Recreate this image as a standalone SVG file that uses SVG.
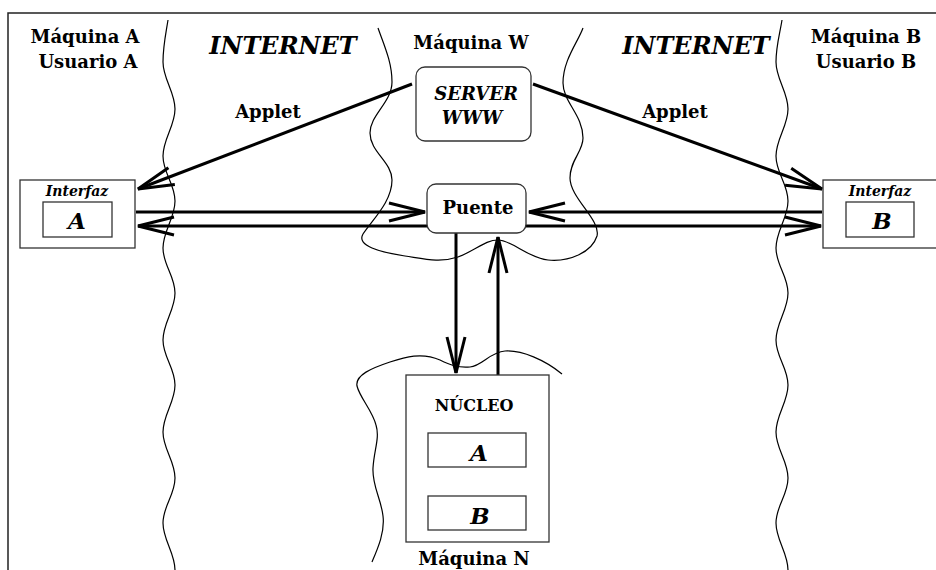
<svg xmlns="http://www.w3.org/2000/svg" width="936" height="570" viewBox="0 0 936 570">
  <style>
    .t { font-family: "DejaVu Serif", "Liberation Serif", serif; font-weight: bold; text-anchor: middle; fill: #000; }
    .i { font-style: italic; }
    .box { fill: #fff; stroke: #333; stroke-width: 1.3; }
    .wave { fill: none; stroke: #000; stroke-width: 1.2; }
    .link { fill: none; stroke: #000; stroke-width: 3; }
  </style>
  <defs>
    <marker id="vhead" viewBox="-40 -12 44 24" refX="0" refY="0" markerWidth="44" markerHeight="24" markerUnits="userSpaceOnUse" orient="auto" overflow="visible">
      <path d="M-36,-9 L0,0 L-36,9" fill="none" stroke="#000" stroke-width="3"/>
    </marker>
  </defs>
  <rect width="936" height="570" fill="#fff"/>

  <!-- page frame -->
  <path d="M8,570 V13 H936" fill="none" stroke="#222" stroke-width="1.5"/>

  <!-- network boundaries -->
  <g id="boundaries">
    <path class="wave" d="M168,20 C166,33 163,46 163,62 C163,79 175,92 175,109 C175,126 163,139 163,156 C163,173 175,184 175,201 C175,218 163,231 163,248 C163,265 175,276 175,293 C175,310 163,323 163,340 C163,357 175,368 175,385 C175,402 163,415 163,432 C163,449 175,461 175,478 C175,495 163,506 163,523 C163,540 175,553 175,570"/>
    <path class="wave" d="M782,20 C780,33 776,46 776,62 C776,79 788,92 788,109 C788,126 776,139 776,156 C776,173 788,184 788,201 C788,218 776,231 776,248 C776,265 788,276 788,293 C788,310 776,323 776,340 C776,357 788,368 788,385 C788,402 776,415 776,432 C776,449 788,461 788,478 C788,495 776,506 776,523 C776,540 788,553 788,570"/>
    <path class="wave" d="M378,28 C384,45 392,62 392,82 C392,102 370,115 370,133 C370,152 392,162 392,180 C392,202 372,220 363,234 C356,246 380,252 405,256 C425,259 440,263 458,257 C475,251 485,240 498,240 C512,240 528,258 548,260 C570,262 592,252 597,236 C601,220 570,198 570,178 C570,160 583,152 583,138 C583,115 563,102 563,83 C563,60 578,42 583,28"/>
    <path class="wave" d="M372,562 C378,548 385,532 383,516 C381,498 372,486 373,468 C374,450 380,438 376,425 C372,410 360,398 357,386 C355,375 372,368 390,362 C405,357 422,352 440,360 C450,365 458,368 470,367 C482,366 490,352 505,351 C522,350 545,360 562,374"/>
  </g>

  <!-- region labels -->
  <g id="labels">
    <text class="t" x="85" y="43" font-size="18">Máquina A</text>
    <text class="t" x="88" y="68" font-size="18">Usuario A</text>
    <text class="t i" x="283" y="54" font-size="24">INTERNET</text>
    <text class="t" x="471" y="49" font-size="18">Máquina W</text>
    <text class="t i" x="696" y="54" font-size="24">INTERNET</text>
    <text class="t" x="866" y="43" font-size="18">Máquina B</text>
    <text class="t" x="866" y="68" font-size="18">Usuario B</text>
    <text class="t" x="268" y="118" font-size="18">Applet</text>
    <text class="t" x="675" y="118" font-size="18">Applet</text>
    <text class="t" x="474" y="565" font-size="18">Máquina N</text>
  </g>

  <!-- connectors -->
  <g id="connectors">
    <line class="link" x1="412" y1="84" x2="138" y2="189" marker-end="url(#vhead)"/>
    <line class="link" x1="533" y1="84" x2="822" y2="189" marker-end="url(#vhead)"/>
    <line class="link" x1="136" y1="212" x2="425" y2="212" marker-end="url(#vhead)"/>
    <line class="link" x1="427" y1="226" x2="138" y2="226" marker-end="url(#vhead)"/>
    <line class="link" x1="822" y1="212" x2="529" y2="212" marker-end="url(#vhead)"/>
    <line class="link" x1="526" y1="226" x2="821" y2="226" marker-end="url(#vhead)"/>
    <line class="link" x1="456" y1="233" x2="456" y2="373" marker-end="url(#vhead)"/>
    <line class="link" x1="498" y1="375" x2="498" y2="237" marker-end="url(#vhead)"/>
  </g>

  <g id="interfaz-a">
    <rect class="box" x="20" y="180" width="115" height="68"/>
    <text class="t i" x="77" y="196" font-size="14">Interfaz</text>
    <rect class="box" x="43" y="202" width="69" height="35"/>
    <text class="t i" x="77" y="229" font-size="23">A</text>
  </g>

  <g id="interfaz-b">
    <rect class="box" x="823" y="180" width="118" height="68"/>
    <text class="t i" x="880" y="196" font-size="14">Interfaz</text>
    <rect class="box" x="846" y="202" width="68" height="35"/>
    <text class="t i" x="882" y="229" font-size="23">B</text>
  </g>

  <g id="server-www">
    <rect class="box" x="416" y="67" width="115" height="74" rx="9"/>
    <text class="t i" x="476" y="100" font-size="18">SERVER</text>
    <text class="t i" x="472" y="124" font-size="18">WWW</text>
  </g>

  <g id="puente">
    <rect class="box" x="427" y="184" width="99" height="49" rx="9"/>
    <text class="t" x="478" y="214" font-size="18">Puente</text>
  </g>

  <g id="nucleo">
    <rect class="box" x="406" y="375" width="143" height="167"/>
    <text class="t" x="474" y="411" font-size="16">NÚCLEO</text>
    <rect class="box" x="428" y="433" width="98" height="34"/>
    <text class="t i" x="479" y="461" font-size="23">A</text>
    <rect class="box" x="428" y="496" width="98" height="34"/>
    <text class="t i" x="480" y="524" font-size="23">B</text>
  </g>
</svg>
